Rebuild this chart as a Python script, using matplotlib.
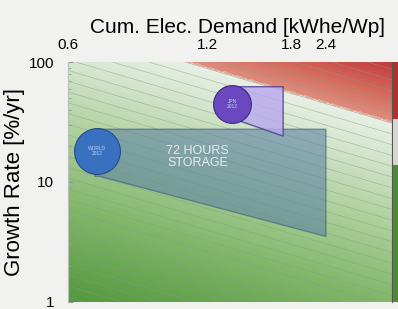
import numpy as np
import matplotlib
matplotlib.use("Agg")
import matplotlib.pyplot as plt
from matplotlib.colors import LinearSegmentedColormap
from matplotlib.patches import Polygon

plt.rcParams['font.family'] = ['Liberation Sans', 'DejaVu Sans']

# top axis: cumulative demand ticks (placed on a 0..1 position scale)
demand_labels = ['0.6', '1.2', '1.8', '2.4']
demand_pos = [0.0, 0.429, 0.688, 0.796]

# shaded regions (position, growth rate %/yr)
storage_x = [0.083, 0.796, 0.796, 0.099, 0.083]
storage_y = [27.5, 27.5, 3.5, 11.1, 11.1]
jpn_x = [0.485, 0.664, 0.664, 0.515, 0.485]
jpn_y = [62.3, 62.3, 24.1, 33.3, 33.3]

# 2012 points
pts_name = ['WORLD\n2012', 'JPN\n2012']
pts_x = [0.0895, 0.506]
pts_y = [18.2, 44.3]

fig = plt.figure(figsize=(3.98, 3.09), dpi=100)
fig.patch.set_facecolor('#f1f1ef')
ax = fig.add_axes([0.171, 0.024, 0.814, 0.775])
ax.set_yscale('log')
ax.set_xlim(0, 1)
ax.set_ylim(1, 100)

# background gradient + diagonal contour lines
gx = np.linspace(0, 1, 300)
gy = np.geomspace(1, 100, 300)
X, Y = np.meshgrid(gx, gy)
F = np.log10(Y) / 2 + 0.4 * X
cmap = LinearSegmentedColormap.from_list('gr', [
    (0.0, '#52983e'), (0.3, '#84b86c'), (0.55, '#b4d4a4'), (0.72, '#d6e6cf'),
    (0.818, '#e8efe5'), (0.826, '#dc8c7c'), (0.9, '#d46a5c'), (1.0, '#c23a3a')])
ax.pcolormesh(X, Y, F, cmap=cmap, vmin=0, vmax=1.4, shading='auto', zorder=0)
ax.contour(X, Y, F, levels=np.arange(0.02, 1.4, 0.045), colors='#8a9a8a',
           linewidths=0.5, alpha=0.55, zorder=1)

ax.add_patch(Polygon(list(zip(storage_x, storage_y)), closed=True,
                     facecolor='#5f83a4', alpha=0.6, edgecolor='#3e5e80',
                     linewidth=1, zorder=2))
ax.add_patch(Polygon(list(zip(jpn_x, jpn_y)), closed=True,
                     facecolor='#b8a8f0', alpha=0.8, edgecolor='#4a3a8a',
                     linewidth=1, zorder=2))
ax.text(0.4, 16, '72 HOURS\nSTORAGE', color='#e4ecf2', fontsize=9,
        ha='center', va='center', linespacing=1.0, zorder=4)

ax.scatter(pts_x[0], pts_y[0], s=1090, color='#3a70c0', edgecolor='#2a4a8a',
           linewidth=0.8, zorder=3)
ax.scatter(pts_x[1], pts_y[1], s=740, color='#6a48c0', edgecolor='#3a2a80',
           linewidth=0.8, zorder=3)
for n, x, y in zip(pts_name, pts_x, pts_y):
    ax.text(x, y, n, color='#c8d4f0', fontsize=3.5, ha='center', va='center',
            linespacing=1.0, zorder=4)

ax.xaxis.tick_top()
ax.xaxis.set_label_position('top')
ax.set_xticks(demand_pos)
ax.set_xticklabels(demand_labels, fontsize=11)
ax.tick_params(axis='x', length=0, pad=7)
ax.set_xlabel('Cum. Elec. Demand [kWhe/Wp]', fontsize=15, labelpad=4)
ax.xaxis.label.set_x(0.523)
ax.set_yticks([1, 10, 100])
ax.set_yticklabels(['1', '10', '100'], fontsize=11)
ax.tick_params(axis='y', which='both', direction='in', color='#999999', pad=10)
ax.set_ylabel('Growth Rate [%/yr]', fontsize=16, labelpad=3)
for s in ['top', 'bottom']:
    ax.spines[s].set_visible(False)
ax.spines['left'].set_color('#b8c0b8')
ax.spines['right'].set_color('#555555')

# edge of the neighbouring panel
ax2 = fig.add_axes([393 / 398, 0.024, 5 / 398, 0.775])
strip = np.array([2] * 12 + [1] * 4 + [0] * 5)
ax2.imshow(strip.reshape(-1, 1), aspect='auto', origin='lower', interpolation='nearest',
           cmap=LinearSegmentedColormap.from_list('s', ['#b03030', '#d8d8d0', '#4a8a30']))
ax2.axis('off')

fig.savefig('out.png', dpi=100, facecolor=fig.get_facecolor())
